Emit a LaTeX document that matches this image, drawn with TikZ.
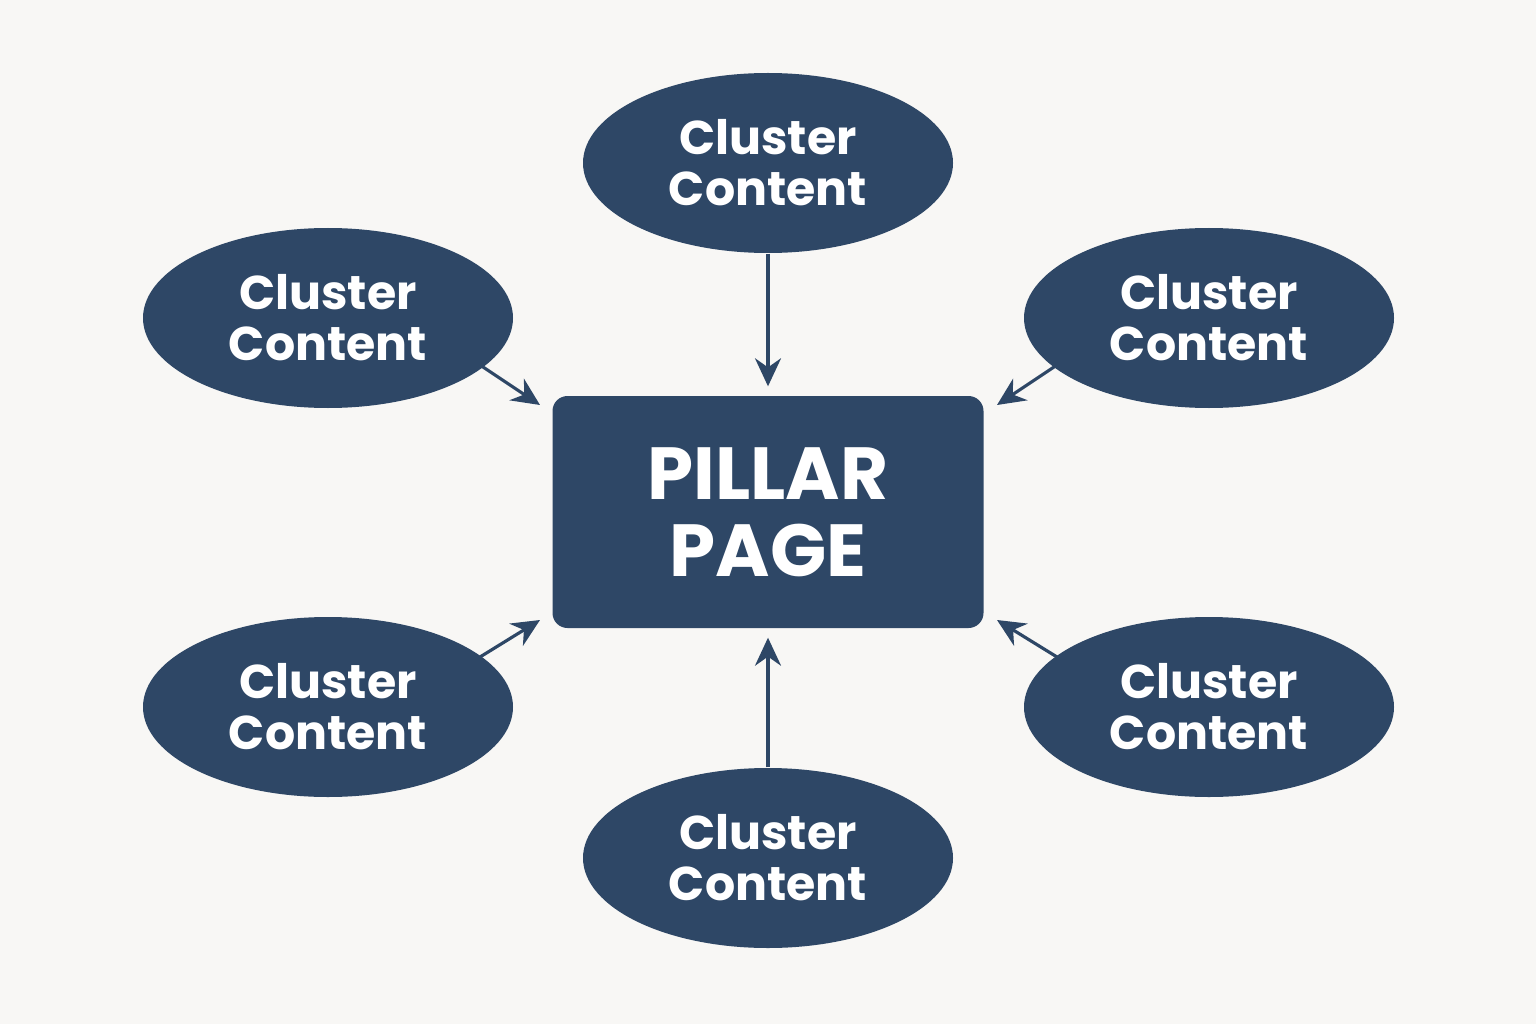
\documentclass[tikz,border=0pt]{standalone}
\usepackage{fontspec}
\setmainfont{Poppins}
\usetikzlibrary{arrows.meta,positioning,shapes.geometric}
\definecolor{navy}{HTML}{2E4766}
\definecolor{paper}{HTML}{F8F7F5}
\tikzset{
  cluster/.style={ellipse, fill=navy, text=white, minimum width=3.7cm, minimum height=1.8cm,
    inner sep=0pt, align=center, font=\fontsize{13.5}{14.5}\selectfont\bfseries},
  pillar/.style={rectangle, rounded corners=0.15cm, fill=navy, text=white, minimum width=4.31cm,
    minimum height=2.32cm, align=center, font=\fontsize{21}{22}\selectfont\bfseries},
  link/.style={draw=navy, line width=0.9pt, -{Stealth[length=0.28cm,width=0.26cm]}}
}
\begin{document}
\begin{tikzpicture}
\fill[paper] (0,0) rectangle (15.36,10.24);
\useasboundingbox (0,0) rectangle (15.36,10.24);
\node[pillar] (pp) at (7.68,5.12) {PILLAR\\PAGE};
\node[cluster] (top) at (7.68,8.61) {Cluster\\Content};
\node[cluster] (tl) at (3.28,7.06) {Cluster\\Content};
\node[cluster] (tr) at (12.09,7.06) {Cluster\\Content};
\node[cluster] (bl) at (3.28,3.17) {Cluster\\Content};
\node[cluster] (br) at (12.09,3.17) {Cluster\\Content};
\node[cluster] (bot) at (7.68,1.66) {Cluster\\Content};
% arrow end points near the box
\coordinate (tlS) at (4.80,6.59);
\coordinate (tlE) at (5.40,6.19);
\coordinate (trS) at (10.57,6.59);
\coordinate (trE) at (9.97,6.19);
\coordinate (blS) at (4.80,3.67);
\coordinate (blE) at (5.40,4.04);
\coordinate (brS) at (10.57,3.67);
\coordinate (brE) at (9.97,4.04);
\draw[link, shorten >=0.09cm] (top.south) -- (pp.north);
\draw[link, shorten >=0.09cm] (bot.north) -- (pp.south);
\draw[link] (tlS) -- (tlE);
\draw[link] (trS) -- (trE);
\draw[link] (blS) -- (blE);
\draw[link] (brS) -- (brE);
\end{tikzpicture}
\end{document}
